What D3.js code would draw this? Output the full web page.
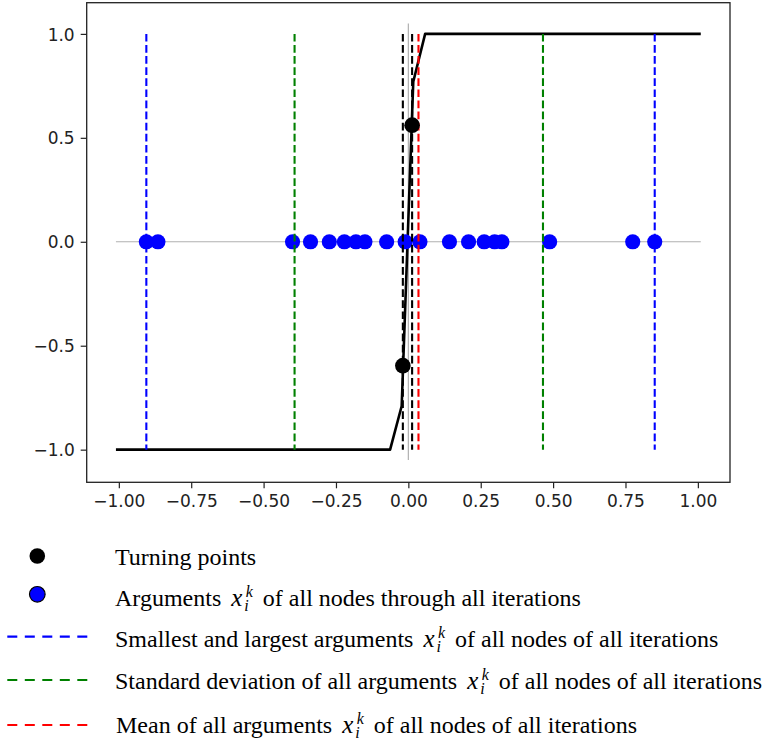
<!DOCTYPE html>
<html>
<head>
<meta charset="utf-8">
<script src="https://cdn.jsdelivr.net/npm/d3@7"></script>
<style>
  body { margin: 0; background: #fff; }
  svg { display: block; }
</style>
</head>
<body>
<div id="chart"></div>
<script>
// values
const curveX = [-1.01, -0.063, -0.023, 0.017, 0.058, 1.01];
const curveY = [-1, -1, -0.79, 0.77, 1, 1];

const argX = [-0.905, -0.865, -0.400, -0.338, -0.273, -0.221, -0.181, -0.150, -0.075,
              -0.011, 0.040, 0.142, 0.208, 0.262, 0.298, 0.323, 0.488, 0.775, 0.851];

const turningX = [-0.019, 0.013];
const turningY = [-0.596, 0.561];

const extremeX = [-0.905, 0.851];
const stdX = [-0.393, 0.465];
const meanX = [0.035];
const vlineSpan = [-1, 1];

const zeroLineX = [-1.01, 1.01];
const zeroLineY = [-1.05, 1.05];

const xTicks = [-1, -0.75, -0.5, -0.25, 0, 0.25, 0.5, 0.75, 1];
const yTicks = [-1, -0.5, 0, 0.5, 1];

const legendItems = [
    { kind: "dot", color: "#000", text: ["Turning points"] },
    { kind: "dot", color: "#0000ff", stroke: "#000", text: ["Arguments ", "MATH", " of all nodes through all iterations"] },
    { kind: "dash", color: "#0000ff", text: ["Smallest and largest arguments ", "MATH", " of all nodes of all iterations"] },
    { kind: "dash", color: "#008000", text: ["Standard deviation of all arguments ", "MATH", " of all nodes of all iterations"] },
    { kind: "dash", color: "#ff0000", text: ["Mean of all arguments ", "MATH", " of all nodes of all iterations"] }
];

const W = 768, H = 743;
const svg = d3.select("#chart").append("svg").attr("width", W).attr("height", H);

const frame = { left: 86.7, right: 730, top: 2.7, bottom: 482.3 };

const x = d3.scaleLinear().domain([-1.111, 1.111]).range([frame.left, frame.right]);
const y = d3.scaleLinear().domain([-1.157, 1.15]).range([frame.bottom, frame.top]);

const plot = svg.append("g");

// gray zero lines
plot.append("line")
    .attr("x1", x(zeroLineX[0])).attr("x2", x(zeroLineX[1]))
    .attr("y1", y(0)).attr("y2", y(0))
    .attr("stroke", "#b0b0b0").attr("stroke-width", 1.2);
plot.append("line")
    .attr("x1", x(0)).attr("x2", x(0))
    .attr("y1", y(zeroLineY[0])).attr("y2", y(zeroLineY[1]))
    .attr("stroke", "#b0b0b0").attr("stroke-width", 1.2);

// curve
const line = d3.line().x(d => x(d[0])).y(d => y(d[1]));
plot.append("path")
    .datum(curveX.map((v, i) => [v, curveY[i]]))
    .attr("d", line)
    .attr("fill", "none")
    .attr("stroke", "#000")
    .attr("stroke-width", 2.6)
    .attr("stroke-linejoin", "round");

// arguments on the zero line
plot.append("g")
    .selectAll("circle")
    .data(argX)
    .enter()
    .append("circle")
    .attr("cx", d => x(d))
    .attr("cy", y(0))
    .attr("r", 7.6)
    .attr("fill", "#0000ff");

// vertical dashed lines
function vlines(values, color) {
    plot.append("g")
        .selectAll("line")
        .data(values)
        .enter()
        .append("line")
        .attr("x1", d => x(d)).attr("x2", d => x(d))
        .attr("y1", y(vlineSpan[1])).attr("y2", y(vlineSpan[0]))
        .attr("stroke", color)
        .attr("stroke-width", 2.1)
        .attr("stroke-dasharray", "7.7,3.4");
}
vlines(extremeX, "#0000ff");
vlines(stdX, "#008000");
vlines(meanX, "#ff0000");
vlines(turningX, "#000");

// turning points
plot.append("g")
    .selectAll("circle")
    .data(turningX)
    .enter()
    .append("circle")
    .attr("cx", d => x(d))
    .attr("cy", (d, i) => y(turningY[i]))
    .attr("r", 7.8)
    .attr("fill", "#000");

// frame
svg.append("rect")
    .attr("x", frame.left).attr("y", frame.top)
    .attr("width", frame.right - frame.left)
    .attr("height", frame.bottom - frame.top)
    .attr("fill", "none")
    .attr("stroke", "#222")
    .attr("stroke-width", 1.3);

// axes
const xAxis = svg.append("g")
    .attr("transform", `translate(0,${frame.bottom})`)
    .call(d3.axisBottom(x).tickValues(xTicks).tickFormat(d3.format(".2f")).tickSize(6).tickPadding(6));
const yAxis = svg.append("g")
    .attr("transform", `translate(${frame.left},0)`)
    .call(d3.axisLeft(y).tickValues(yTicks).tickFormat(d3.format(".1f")).tickSize(6).tickPadding(6));

[xAxis, yAxis].forEach(a => {
    a.select(".domain").remove();
    a.selectAll(".tick line").attr("stroke", "#222").attr("stroke-width", 1.2);
    a.selectAll(".tick text")
        .attr("fill", "#222")
        .style("font-family", "'DejaVu Sans', sans-serif")
        .style("font-size", "17px");
});
yAxis.selectAll(".tick text").attr("dy", "0.36em");
xAxis.selectAll(".tick text").attr("dy", "0.72em");

// legend below the chart
const rowMark = [556, 594.3, 636.7, 680, 725];
const rowBase = [565, 605.5, 646.7, 689, 733];
const legend = svg.append("g").style("font-family", "'Liberation Serif', 'Times New Roman', serif");

legendItems.forEach((item, i) => {
    if (item.kind === "dot") {
        legend.append("circle")
            .attr("cx", 37.3).attr("cy", rowMark[i]).attr("r", 7.8)
            .attr("fill", item.color)
            .attr("stroke", item.stroke || "none")
            .attr("stroke-width", 1.2);
    } else {
        legend.append("line")
            .attr("x1", 7.3).attr("x2", 87.3)
            .attr("y1", rowMark[i]).attr("y2", rowMark[i])
            .attr("stroke", item.color)
            .attr("stroke-width", 2.2)
            .attr("stroke-dasharray", "10,7.5");
    }

    let cursor = i === 4 ? 116 : 115;
    const base = rowBase[i];
    item.text.forEach(part => {
        if (part === "MATH") {
            // x with subscript i and superscript k, one text element
            const xStart = cursor + 4;
            const m = legend.append("text")
                .attr("x", xStart).attr("y", base)
                .style("font-style", "italic");
            m.append("tspan").style("font-size", "25px").text("x");
            m.append("tspan")
                .attr("x", xStart + 13).attr("y", base + 5.3)
                .style("font-size", "16px").text("i");
            const sup = m.append("tspan")
                .attr("x", xStart + 14.5).attr("y", base - 9)
                .style("font-size", "16px").text("k");
            cursor = xStart + 14.5 + sup.node().getComputedTextLength() + 4;
        } else {
            const t = legend.append("text")
                .attr("x", cursor).attr("y", base)
                .style("font-size", "24px")
                .style("white-space", "pre")
                .attr("xml:space", "preserve")
                .text(part);
            cursor += t.node().getComputedTextLength();
        }
    });
});
</script>
</body>
</html>
